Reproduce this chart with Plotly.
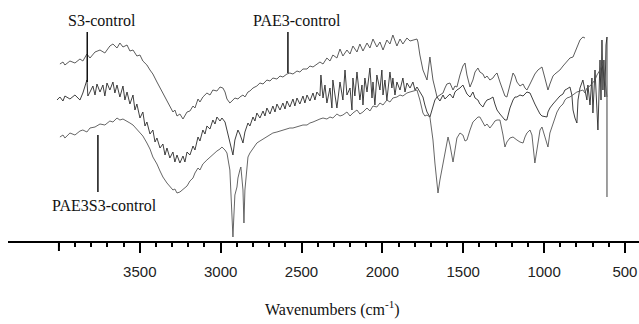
import plotly.graph_objects as go

# ---------------- data (wavenumber, arbitrary transmittance units) ----------------
top_wn = [3994,3975,3963,3932,3901,3870,3852,3827,3808,3777,3746,3716,3685,3666,3641,3623,3604,3579,3561,3542,
          3518,3499,3481,3456,3437,3419,3394,3375,3357,3332,3314,3295,3283,3270,3252,3233,3208,3190,3171,3159,
          3140,3128,3110,3085,3066,3048,3023,3004,2986,2973,2961,2943,2930,2912,2893,2881,2862,2850,2831,2819,
          2800,2776,2757,2738,2714,2695,2677,2652,2633,2615,2590,2572,2553,2528,2510,2491,2466,2448,2429,2405,
          2386,2367,2343,2324,2306,2281,2262,2244,2219,2200,2182,2157,2139,2120,2095,2077,2058,2034,2015,1996,
          1972,1953,1935,1910,1891,1873,1848,1829,1811,1786,1780,1768,1749,1737,1724,1706,1687,1675,1662,1644,
          1625,1613,1601,1582,1563,1551,1539,1520,1502,1489,1477,1458,1440,1427,1409,1397,1378,1366,1353,1335,
          1316,1304,1291,1273,1254,1242,1230,1211,1192,1180,1168,1149,1130,1118,1106,1087,1075,1057,1038,1025,
          1013,995,982,976,964,945,933,920,902,883,871,859,840,821,809,797,778,760,747]
top_val = [177,179,176,180,178,182,180,187,183,189,191,188,195,197,193,198,194,196,190,191,
           185,186,180,176,171,167,159,153,147,140,135,129,131,125,127,122,129,130,135,133,
           142,139,144,148,146,151,150,154,153,149,142,138,140,143,142,144,146,144,149,150,
           153,155,158,157,161,160,163,162,165,164,167,168,167,170,169,172,172,175,174,177,
           179,177,183,180,186,183,192,185,191,187,195,189,197,190,198,193,202,194,199,191,
           201,197,206,195,202,197,203,200,201,202,199,186,171,166,161,184,161,153,144,146,
           148,153,157,158,151,155,154,166,175,178,166,154,161,169,173,169,167,163,165,161,
           163,166,168,159,151,145,144,156,168,165,159,155,157,153,151,157,161,167,171,173,
           174,163,153,151,157,165,167,169,171,175,177,179,183,184,189,193,201,204,203]

mid_wn = [4012,3994,3975,3963,3932,3901,3870,3852,3827,3821,3808,3790,3777,3765,3746,3728,3716,3703,3685,3666,
          3654,3641,3623,3604,3592,3579,3561,3542,3530,3518,3499,3481,3468,3456,3437,3419,3406,3394,3375,3357,
          3344,3332,3314,3295,3283,3270,3252,3233,3221,3208,3190,3171,3159,3140,3128,3110,3097,3085,3066,3048,
          3035,3023,3004,2992,2973,2961,2943,2924,2912,2899,2893,2881,2862,2850,2831,2819,2800,2788,2776,2757,
          2738,2726,2714,2695,2677,2664,2652,2633,2615,2602,2590,2572,2553,2541,2528,2510,2491,2479,2466,2448,
          2429,2417,2405,2386,2380,2367,2355,2343,2324,2312,2306,2293,2281,2262,2244,2231,2219,2200,2188,2182,
          2170,2157,2139,2126,2120,2108,2095,2077,2064,2058,2046,2034,2015,2003,1996,1984,1972,1953,1941,1935,
          1922,1910,1891,1873,1860,1848,1829,1811,1798,1786,1768,1749,1737,1724,1706,1687,1675,1662,1644,1625,
          1613,1601,1582,1563,1551,1539,1520,1502,1489,1477,1458,1440,1427,1409,1397,1378,1366,1353,1335,1316,
          1304,1291,1273,1254,1242,1230,1211,1192,1180,1168,1149,1130,1118,1106,1087,1075,1057,1038,1025,1013,
          995,982,976,964,945,933,920,902,883,871,859,840,828,821,809,797,790,778,760,747,
          735,729,716,704,698,685,673,667,654,648,642,636,630,624,617,611,611]
mid_val = [141,144,140,145,142,146,141,148,161,145,149,155,146,157,149,156,145,158,151,159,
           148,156,144,155,141,149,137,146,131,137,123,129,115,119,107,111,99,103,93,97,
           86,93,83,89,79,86,78,85,79,89,86,95,91,104,100,111,107,115,112,121,
           117,124,120,123,119,111,101,86,101,109,111,107,98,109,118,115,124,120,128,123,
           130,125,133,127,135,129,137,131,138,132,140,134,142,135,143,137,145,138,146,140,
           148,141,149,145,166,143,156,138,153,133,161,146,133,159,141,171,146,153,131,163,
           145,169,141,156,136,163,149,173,143,159,136,166,151,171,146,161,141,169,153,163,
           146,159,151,163,149,158,153,159,151,154,149,144,136,129,124,136,141,144,140,146,
           142,144,147,143,149,151,153,156,151,147,144,149,143,141,137,134,138,141,142,144,
           137,131,127,123,121,121,133,141,144,144,146,145,147,149,148,143,137,131,127,125,
           124,124,129,133,137,139,141,145,147,151,152,154,146,131,123,118,141,153,161,149,
           141,156,136,163,128,171,136,111,181,141,201,151,181,144,196,204,44]

bot_wn = [3994,3975,3963,3932,3901,3870,3852,3827,3808,3777,3746,3716,3685,3666,3641,3623,3604,3579,3561,3542,
          3518,3499,3481,3456,3437,3419,3394,3375,3357,3332,3314,3295,3283,3270,3252,3233,3208,3190,3171,3159,
          3140,3128,3110,3085,3066,3048,3023,3004,2992,2973,2961,2943,2930,2924,2918,2912,2899,2893,2881,2875,
          2862,2856,2850,2837,2831,2819,2800,2776,2757,2738,2714,2695,2677,2652,2633,2615,2590,2572,2553,2528,
          2510,2491,2466,2448,2429,2405,2386,2367,2343,2324,2306,2281,2262,2244,2219,2200,2182,2157,2139,2120,
          2095,2077,2058,2034,2015,1996,1972,1953,1935,1910,1891,1873,1848,1829,1811,1786,1768,1749,1737,1724,
          1706,1687,1675,1662,1656,1644,1625,1613,1601,1594,1582,1563,1551,1539,1520,1502,1489,1477,1458,1440,
          1427,1409,1397,1378,1366,1353,1335,1316,1304,1291,1273,1254,1242,1230,1211,1192,1180,1168,1149,1130,
          1118,1106,1087,1075,1057,1038,1025,1013,995,982,976,964,945,933,920,902,883,871,859,840,
          821,809,797,778,760,747,735,716,698,685,673,654,636,624,611]
bot_val = [104,106,103,108,106,110,111,109,113,114,117,116,120,119,123,121,122,120,118,116,
           112,109,105,98,92,84,77,70,64,58,55,51,52,48,49,52,55,60,63,68,
           73,71,77,81,84,86,90,92,94,91,88,71,31,4,26,46,54,63,71,74,
           51,18,51,76,84,88,93,98,100,102,104,106,108,109,110,111,112,113,113,114,
           115,116,116,118,119,121,122,123,122,124,123,127,125,126,129,125,128,131,127,129,
           133,130,135,134,138,136,141,139,143,144,146,145,148,149,150,151,141,128,125,126,
           124,101,78,56,48,61,78,91,101,104,96,79,91,103,108,106,100,101,111,119,
           121,124,124,119,115,117,113,117,120,121,121,106,94,99,103,104,102,101,99,98,
           104,108,111,106,78,96,111,114,104,96,94,108,118,123,129,134,137,141,143,144,
           146,147,149,150,151,148,153,155,158,161,166,171,178,161,144]

tick_vals = [3500, 3000, 2500, 2000, 1500, 1000, 500]
unlabeled_major = [4000]
minor_vals = list(range(4000, 399, -100))

# label annotations: (text, x wn, y text, line x wn, line y0, line y1)
labels = [
    ("S3-control", 3734, 221, 3825, 209, 159),
    ("PAE3-control", 2528, 221, 2584, 209, 168),
    ("PAE3S3-control", 3716, 36, 3759, 106, 49),
]

fig = go.Figure()
for wn, val, col in [(top_wn, top_val, "#4a4a4a"), (mid_wn, mid_val, "#2a2a2a"), (bot_wn, bot_val, "#555555")]:
    fig.add_trace(go.Scatter(x=wn, y=val, mode="lines", line=dict(color=col, width=0.9),
                             showlegend=False, hoverinfo="skip"))

for text, tx, ty, lx, ly0, ly1 in labels:
    fig.add_annotation(x=tx, y=ty, text=text, showarrow=False, xref="x", yref="y",
                       font=dict(family="Liberation Serif", size=16, color="#111"))
    fig.add_shape(type="line", x0=lx, x1=lx, y0=ly0, y1=ly1, xref="x", yref="y",
                  line=dict(color="#111", width=1.5))

# unlabeled major tick at 4000
for v in unlabeled_major:
    fig.add_shape(type="line", xref="x", yref="paper", ysizemode="pixel", yanchor=0,
                  x0=v, x1=v, y0=0, y1=-10, line=dict(color="black", width=2))

fig.add_annotation(x=0.5135, y=-0.282, xref="paper", yref="paper", showarrow=False,
                   text="Wavenumbers (cm<sup>-1</sup>)", yanchor="middle",
                   font=dict(family="Liberation Serif", size=16, color="#111"))

fig.update_layout(
    width=639, height=324, margin=dict(l=8, r=0, t=0, b=83),
    paper_bgcolor="white", plot_bgcolor="white",
    xaxis=dict(range=[4315, 413], showgrid=False, zeroline=False, showline=True,
               linecolor="black", linewidth=2, ticks="outside", ticklen=10, tickwidth=2,
               tickcolor="black", tickmode="array", tickvals=tick_vals,
               ticklabelstandoff=6,
               tickfont=dict(family="Liberation Sans", size=15, color="#222"),
               minor=dict(tickmode="array", tickvals=minor_vals, ticks="outside", ticklen=4,
                          tickwidth=2, tickcolor="black", showgrid=False)),
    yaxis=dict(range=[0, 241], visible=False, showgrid=False, zeroline=False),
)

fig.write_html("out.html")
